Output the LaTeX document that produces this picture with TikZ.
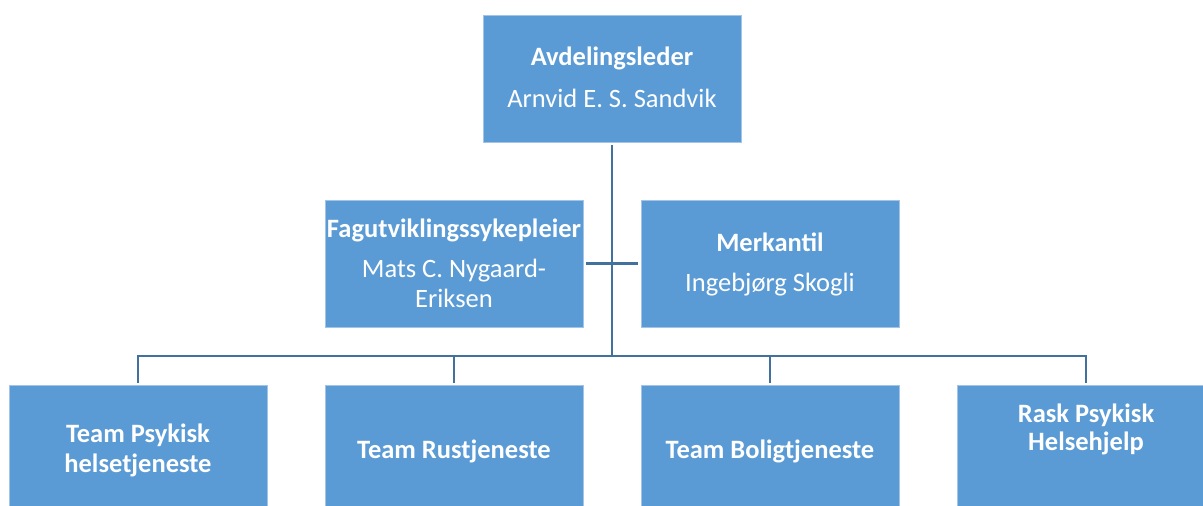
\documentclass[tikz,border=0pt]{standalone}
\usepackage{fontspec}
\setmainfont{Carlito}
\definecolor{boxfill}{HTML}{5B9BD5}
\definecolor{boxedge}{HTML}{A3C4E6}
\definecolor{linec}{HTML}{41719C}
\begin{document}
\begin{tikzpicture}[x=1pt,y=-1pt,
  orgbox/.style={fill=boxfill,draw=boxedge,line width=0.8pt,minimum width=258pt,minimum height=127pt,inner sep=0pt,outer sep=0pt},
  tallbox/.style={orgbox,minimum height=150pt},
  ttl/.style={text=white,font=\fontsize{26.5}{30}\selectfont\bfseries,anchor=base,inner sep=0pt},
  nme/.style={text=white,font=\fontsize{26.5}{30}\selectfont,anchor=base,inner sep=0pt},
  conn/.style={draw=linec,line width=2.6pt}]
\clip (0,0) rectangle (1203,506);
\fill[white] (0,0) rectangle (1203,506);
% boxes
\node[orgbox] (top) at (612,78.5) {};
\node[orgbox] (fag) at (454,263.5) {};
\node[orgbox] (merk) at (770,263.5) {};
\node[tallbox] (b1) at (138,460) {};
\node[tallbox] (b2) at (454,460) {};
\node[tallbox] (b3) at (770,460) {};
\node[tallbox] (b4) at (1086,460) {};
\coordinate (bus) at (0,356);
% connectors
\draw[conn] ([yshift=-3pt]top.south) -- (top.south |- bus);
\draw[conn] ([xshift=3pt]fag.east) -- ([xshift=-3pt]merk.west);
\draw[conn] ([yshift=2pt]b1.north) -- (b1.north |- bus) -- (b4.north |- bus) -- ([yshift=2pt]b4.north);
\draw[conn] ([yshift=2pt]b2.north) -- (b2.north |- bus);
\draw[conn] ([yshift=2pt]b3.north) -- (b3.north |- bus);
% texts
\node[ttl] (t1) at (612,65) {Avdelingsleder};
\node[nme] (n1) at (612,107) {Arnvid E. S. Sandvik};
\node[ttl] (t2) at (454,237) {Fagutviklingssykepleier};
\node[nme] (n2a) at (454,277) {Mats C. Nygaard-};
\node[nme] (n2b) at (454,307) {Eriksen};
\node[ttl] (t3) at (770,251) {Merkantil};
\node[nme] (n3) at (770,291) {Ingebjørg Skogli};
\node[ttl] (t4a) at (138,442) {Team Psykisk};
\node[ttl] (t4b) at (138,472) {helsetjeneste};
\node[ttl] (t5) at (454,458) {Team Rustjeneste};
\node[ttl] (t6) at (770,458) {Team Boligtjeneste};
\node[ttl] (t7a) at (1086,422) {Rask Psykisk};
\node[ttl] (t7b) at (1086,450) {Helsehjelp};
\end{tikzpicture}
\end{document}
